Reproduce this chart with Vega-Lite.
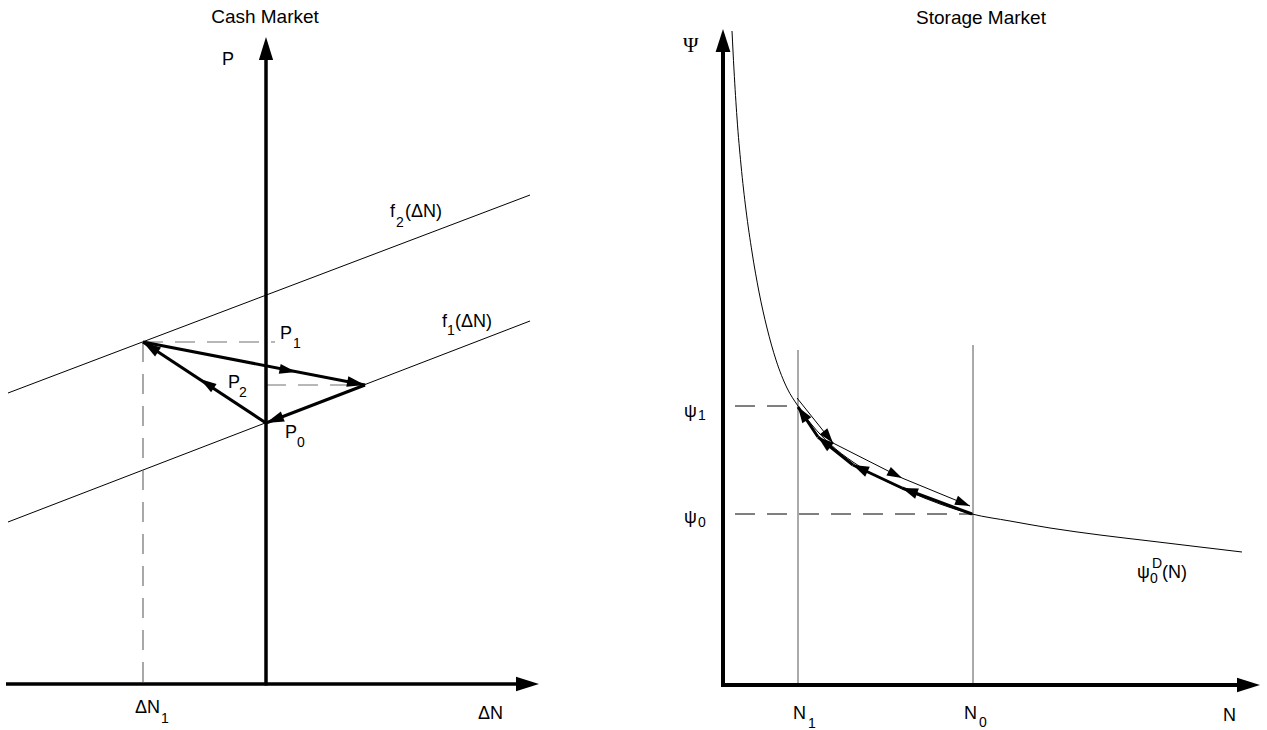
{
  "$schema": "https://vega.github.io/schema/vega-lite/v6.json",
  "padding": 0,
  "spacing": 0,
  "background": "white",
  "config": {"view": {"stroke": null}, "font": "Liberation Sans"},
  "datasets": {
    "cash_axes": [
      {"dN": -2.60, "P": 0, "dN2": 2.58, "P2": 0},
      {"dN": 0, "P": -0.015, "dN2": 0, "P2": 6.30}
    ],
    "cash_axis_heads": [
      {"dN": 2.73, "P": 0, "heading": 90},
      {"dN": 0, "P": 6.47, "heading": 0}
    ],
    "cash_supply": [
      {"curve": "f1", "dN": -2.58, "P": 1.62, "dN2": 2.64, "P2": 3.63},
      {"curve": "f2", "dN": -2.58, "P": 2.91, "dN2": 2.64, "P2": 4.89}
    ],
    "cash_guides": [
      {"dN": -1.23, "P": 3.42, "dN2": 0.09, "P2": 3.42},
      {"dN": -1.23, "P": 3.42, "dN2": -1.23, "P2": 0},
      {"dN": 0, "P": 2.99, "dN2": 0.99, "P2": 2.99}
    ],
    "cash_path": [
      {"from": "P0", "to": "P1", "dN": 0, "P": 2.61, "dN2": -1.23, "P2": 3.42},
      {"from": "P1", "to": "P2", "dN": -1.23, "P": 3.42, "dN2": 0.99, "P2": 2.99},
      {"from": "P2", "to": "P0", "dN": 0.99, "P": 2.99, "dN2": 0, "P2": 2.61}
    ],
    "cash_heads": [
      {"dN": -1.23, "P": 3.42, "heading": 303.4},
      {"dN": 0.99, "P": 2.99, "heading": 101.0},
      {"dN": 0, "P": 2.61, "heading": 249.0}
    ],
    "cash_mid_heads": [
      {"dN": -0.66, "P": 3.05, "heading": 303.4},
      {"dN": 0.30, "P": 3.12, "heading": 101.0}
    ],
    "cash_title": [{"label": "Cash Market", "dN": -0.01, "P": 6.61}],
    "cash_labels": [
      {"label": "P", "dN": -0.44, "P": 6.19},
      {"label": "P", "dN": 0.14, "P": 3.45},
      {"label": "P", "dN": -0.38, "P": 2.96},
      {"label": "P", "dN": 0.19, "P": 2.46},
      {"label": "f", "dN": 1.24, "P": 4.67},
      {"label": "(ΔN)", "dN": 1.39, "P": 4.67},
      {"label": "f", "dN": 1.76, "P": 3.57},
      {"label": "(ΔN)", "dN": 1.89, "P": 3.57},
      {"label": "ΔN", "dN": -1.31, "P": -0.29},
      {"label": "ΔN", "dN": 2.12, "P": -0.35}
    ],
    "cash_subs": [
      {"label": "1", "dN": 0.27, "P": 3.36},
      {"label": "2", "dN": -0.27, "P": 2.87},
      {"label": "0", "dN": 0.31, "P": 2.37},
      {"label": "2", "dN": 1.30, "P": 4.57},
      {"label": "1", "dN": 1.81, "P": 3.49},
      {"label": "1", "dN": -1.05, "P": -0.39}
    ],
    "storage_axes": [
      {"N": -0.02, "Psi": 0, "N2": 5.25, "Psi2": 0},
      {"N": 0, "Psi": -0.015, "N2": 0, "Psi2": 6.40}
    ],
    "storage_axis_heads": [
      {"N": 5.37, "Psi": 0, "heading": 90},
      {"N": 0, "Psi": 6.56, "heading": 0}
    ],
    "storage_levels": [
      {"level": "N1", "N": 0.75, "Psi": 3.35, "N2": 0.75, "Psi2": 0},
      {"level": "N0", "N": 2.50, "Psi": 3.40, "N2": 2.50, "Psi2": 0}
    ],
    "storage_guides": [
      {"N": 0.12, "Psi": 2.79, "N2": 0.75, "Psi2": 2.79},
      {"N": 0.12, "Psi": 1.71, "N2": 2.50, "Psi2": 1.71}
    ],
    "storage_demand": [
      {"N": 0.09, "Psi": 6.54},
      {"N": 0.11, "Psi": 6.15},
      {"N": 0.14, "Psi": 5.67},
      {"N": 0.18, "Psi": 5.20},
      {"N": 0.23, "Psi": 4.75},
      {"N": 0.29, "Psi": 4.33},
      {"N": 0.36, "Psi": 3.93},
      {"N": 0.44, "Psi": 3.57},
      {"N": 0.53, "Psi": 3.25},
      {"N": 0.64, "Psi": 2.97},
      {"N": 0.75, "Psi": 2.79},
      {"N": 0.89, "Psi": 2.60},
      {"N": 1.07, "Psi": 2.41},
      {"N": 1.30, "Psi": 2.23},
      {"N": 1.57, "Psi": 2.07},
      {"N": 1.87, "Psi": 1.93},
      {"N": 2.17, "Psi": 1.81},
      {"N": 2.49, "Psi": 1.71},
      {"N": 2.87, "Psi": 1.64},
      {"N": 3.27, "Psi": 1.57},
      {"N": 3.77, "Psi": 1.50},
      {"N": 4.27, "Psi": 1.44},
      {"N": 4.77, "Psi": 1.38},
      {"N": 5.19, "Psi": 1.33}
    ],
    "storage_up": [
      {"N": 2.49, "Psi": 1.71, "N2": 1.79, "Psi2": 1.97},
      {"N": 1.79, "Psi": 1.97, "N2": 1.30, "Psi2": 2.20},
      {"N": 1.30, "Psi": 2.20, "N2": 0.95, "Psi2": 2.48},
      {"N": 0.95, "Psi": 2.48, "N2": 0.75, "Psi2": 2.78}
    ],
    "storage_up_heads": [
      {"N": 1.79, "Psi": 1.97, "heading": 290.4},
      {"N": 1.30, "Psi": 2.20, "heading": 295.1},
      {"N": 0.95, "Psi": 2.48, "heading": 308.7},
      {"N": 0.75, "Psi": 2.78, "heading": 326.3}
    ],
    "storage_down": [
      {"N": 0.74, "Psi": 2.87, "N2": 1.10, "Psi2": 2.42},
      {"N": 1.10, "Psi": 2.42, "N2": 1.79, "Psi2": 2.07},
      {"N": 1.79, "Psi": 2.07, "N2": 2.47, "Psi2": 1.79}
    ],
    "storage_down_heads": [
      {"N": 1.10, "Psi": 2.42, "heading": 141.3},
      {"N": 1.79, "Psi": 2.07, "heading": 116.9},
      {"N": 2.47, "Psi": 1.79, "heading": 112.4}
    ],
    "storage_title": [{"label": "Storage Market", "N": 2.58, "Psi": 6.61}],
    "storage_axis_name": [{"label": "Ψ", "N": -0.40, "Psi": 6.33}],
    "storage_labels": [
      {"label": "ψ", "N": -0.39, "Psi": 2.68},
      {"label": "ψ", "N": -0.39, "Psi": 1.62},
      {"label": "ψ", "N": 4.14, "Psi": 1.07},
      {"label": "(N)", "N": 4.39, "Psi": 1.07},
      {"label": "N", "N": 0.70, "Psi": -0.34},
      {"label": "N", "N": 2.41, "Psi": -0.34},
      {"label": "N", "N": 5.00, "Psi": -0.36}
    ],
    "storage_subs": [
      {"label": "1", "N": -0.25, "Psi": 2.65},
      {"label": "0", "N": -0.25, "Psi": 1.58},
      {"label": "0", "N": 4.27, "Psi": 1.02},
      {"label": "D", "N": 4.29, "Psi": 1.17},
      {"label": "1", "N": 0.85, "Psi": -0.43},
      {"label": "0", "N": 2.56, "Psi": -0.42}
    ]
  },
  "hconcat": [
    {
      "width": 600,
      "height": 730,
      "encoding": {
        "x": {"field": "dN", "type": "quantitative", "axis": null, "scale": {"domain": [-2.66, 3.34], "nice": false, "zero": false}},
        "y": {"field": "P", "type": "quantitative", "axis": null, "scale": {"domain": [-0.46, 6.84], "nice": false, "zero": false}}
      },
      "layer": [
        {"data": {"name": "cash_supply"}, "mark": {"type": "rule", "color": "black", "strokeWidth": 1}, "encoding": {"x2": {"field": "dN2"}, "y2": {"field": "P2"}}},
        {"data": {"name": "cash_guides"}, "mark": {"type": "rule", "color": "#707070", "strokeWidth": 1.2, "strokeDash": [20, 12]}, "encoding": {"x2": {"field": "dN2"}, "y2": {"field": "P2"}}},
        {"data": {"name": "cash_axes"}, "mark": {"type": "rule", "color": "black", "strokeWidth": 3.5}, "encoding": {"x2": {"field": "dN2"}, "y2": {"field": "P2"}}},
        {"data": {"name": "cash_axis_heads"}, "mark": {"type": "point", "shape": "M0,0L0.31,1L-0.31,1Z", "filled": true, "color": "black", "opacity": 1, "size": 2116}, "encoding": {"angle": {"field": "heading", "type": "quantitative", "scale": null}}},
        {"data": {"name": "cash_path"}, "mark": {"type": "rule", "color": "black", "strokeWidth": 3}, "encoding": {"x2": {"field": "dN2"}, "y2": {"field": "P2"}}},
        {"data": {"name": "cash_heads"}, "mark": {"type": "point", "shape": "M0,0L0.3,1L-0.3,1Z", "filled": true, "color": "black", "opacity": 1, "size": 1296}, "encoding": {"angle": {"field": "heading", "type": "quantitative", "scale": null}}},
        {"data": {"name": "cash_mid_heads"}, "mark": {"type": "point", "shape": "M0,0L0.3,1L-0.3,1Z", "filled": true, "color": "black", "opacity": 1, "size": 1100}, "encoding": {"angle": {"field": "heading", "type": "quantitative", "scale": null}}},
        {"data": {"name": "cash_title"}, "mark": {"type": "text", "align": "center", "baseline": "alphabetic", "fontSize": 19, "font": "Liberation Sans", "color": "black"}, "encoding": {"text": {"field": "label"}}},
        {"data": {"name": "cash_labels"}, "mark": {"type": "text", "align": "left", "baseline": "alphabetic", "fontSize": 18, "font": "Liberation Sans", "color": "black"}, "encoding": {"text": {"field": "label"}}},
        {"data": {"name": "cash_subs"}, "mark": {"type": "text", "align": "left", "baseline": "alphabetic", "fontSize": 14, "font": "Liberation Sans", "color": "black"}, "encoding": {"text": {"field": "label"}}}
      ]
    },
    {
      "width": 667,
      "height": 730,
      "encoding": {
        "x": {"field": "N", "type": "quantitative", "axis": null, "scale": {"domain": [-1.23, 5.44], "nice": false, "zero": false}},
        "y": {"field": "Psi", "type": "quantitative", "axis": null, "scale": {"domain": [-0.45, 6.85], "nice": false, "zero": false}}
      },
      "layer": [
        {"data": {"name": "storage_levels"}, "mark": {"type": "rule", "color": "#555555", "strokeWidth": 1}, "encoding": {"x2": {"field": "N2"}, "y2": {"field": "Psi2"}}},
        {"data": {"name": "storage_guides"}, "mark": {"type": "rule", "color": "black", "strokeWidth": 1, "strokeDash": [20, 12]}, "encoding": {"x2": {"field": "N2"}, "y2": {"field": "Psi2"}}},
        {"data": {"name": "storage_demand"}, "mark": {"type": "line", "color": "black", "strokeWidth": 1, "interpolate": "monotone"}, "encoding": {}},
        {"data": {"name": "storage_down"}, "mark": {"type": "rule", "color": "black", "strokeWidth": 1}, "encoding": {"x2": {"field": "N2"}, "y2": {"field": "Psi2"}}},
        {"data": {"name": "storage_down_heads"}, "mark": {"type": "point", "shape": "M0,0L0.32,1L-0.32,1Z", "filled": true, "color": "black", "opacity": 1, "size": 900}, "encoding": {"angle": {"field": "heading", "type": "quantitative", "scale": null}}},
        {"data": {"name": "storage_up"}, "mark": {"type": "rule", "color": "black", "strokeWidth": 3}, "encoding": {"x2": {"field": "N2"}, "y2": {"field": "Psi2"}}},
        {"data": {"name": "storage_up_heads"}, "mark": {"type": "point", "shape": "M0,0L0.34,1L-0.34,1Z", "filled": true, "color": "black", "opacity": 1, "size": 1024}, "encoding": {"angle": {"field": "heading", "type": "quantitative", "scale": null}}},
        {"data": {"name": "storage_axes"}, "mark": {"type": "rule", "color": "black", "strokeWidth": 4}, "encoding": {"x2": {"field": "N2"}, "y2": {"field": "Psi2"}}},
        {"data": {"name": "storage_axis_heads"}, "mark": {"type": "point", "shape": "M0,0L0.32,1L-0.32,1Z", "filled": true, "color": "black", "opacity": 1, "size": 2116}, "encoding": {"angle": {"field": "heading", "type": "quantitative", "scale": null}}},
        {"data": {"name": "storage_title"}, "mark": {"type": "text", "align": "center", "baseline": "alphabetic", "fontSize": 19, "font": "Liberation Sans", "color": "black"}, "encoding": {"text": {"field": "label"}}},
        {"data": {"name": "storage_axis_name"}, "mark": {"type": "text", "align": "left", "baseline": "alphabetic", "fontSize": 21, "font": "Liberation Serif", "color": "black"}, "encoding": {"text": {"field": "label"}}},
        {"data": {"name": "storage_labels"}, "mark": {"type": "text", "align": "left", "baseline": "alphabetic", "fontSize": 18, "font": "Liberation Sans", "color": "black"}, "encoding": {"text": {"field": "label"}}},
        {"data": {"name": "storage_subs"}, "mark": {"type": "text", "align": "left", "baseline": "alphabetic", "fontSize": 14, "font": "Liberation Sans", "color": "black"}, "encoding": {"text": {"field": "label"}}}
      ]
    }
  ]
}
